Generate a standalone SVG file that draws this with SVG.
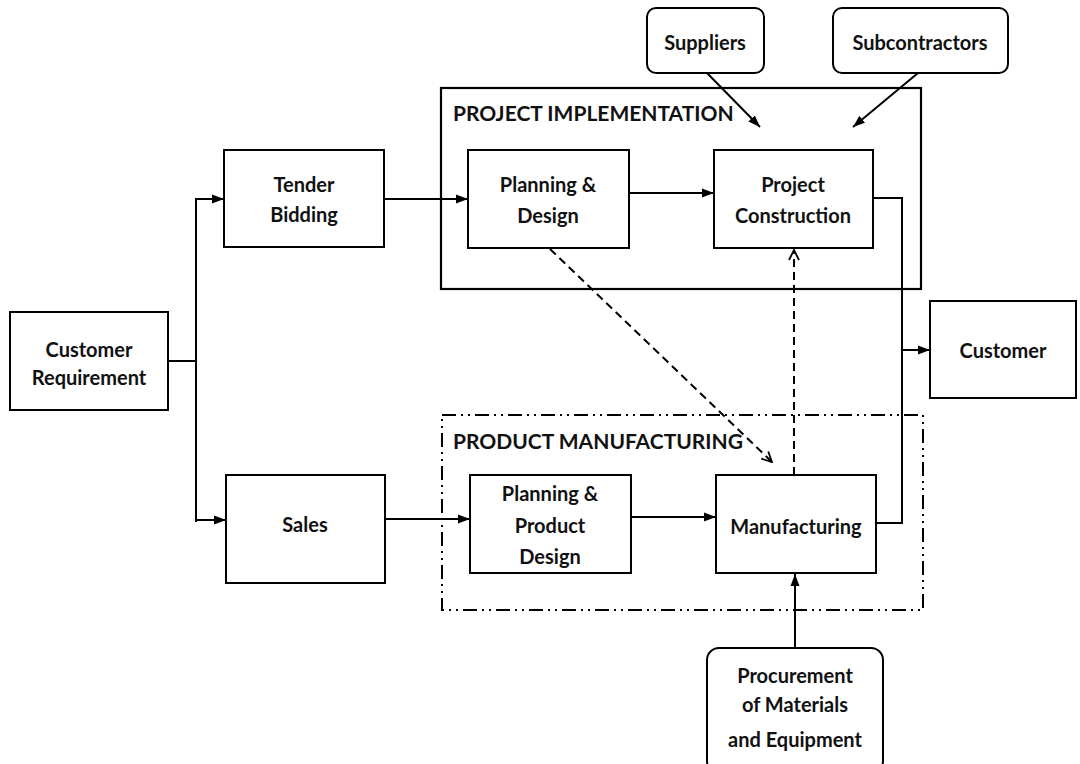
<svg xmlns="http://www.w3.org/2000/svg" width="1080" height="764" viewBox="0 0 1080 764">
<style>
.box{fill:#fff;stroke:#000;stroke-width:2}
.grp{fill:none;stroke:#000;stroke-width:2.2}
.grpd{fill:none;stroke:#000;stroke-width:2;stroke-dasharray:14 5 2 5 2 5}
.ln{fill:none;stroke:#000;stroke-width:2}
.dash{fill:none;stroke:#000;stroke-width:2;stroke-dasharray:8 5}
text{font-family:Lato,"Liberation Sans",sans-serif;font-size:20px;font-weight:bold;fill:#111;text-anchor:middle}
.title{text-anchor:start;font-size:21px}
</style>
<defs>
<marker id="ah" viewBox="0 0 12 10" refX="12" refY="5" markerWidth="12" markerHeight="10" markerUnits="userSpaceOnUse" orient="auto">
<path d="M0,0.5 L12,5 L0,9.5 Z" fill="#000"/>
</marker>
<marker id="oh" viewBox="0 0 12 12" refX="11" refY="6" markerWidth="12" markerHeight="12" markerUnits="userSpaceOnUse" orient="auto">
<path d="M1,1 L11,6 L1,11" fill="none" stroke="#000" stroke-width="1.8"/>
</marker>
</defs>

<g id="project-implementation">
<rect class="grp" x="441" y="88" width="480" height="201"/>
<text class="title" x="453" y="121">PROJECT IMPLEMENTATION</text>
</g>
<g id="product-manufacturing">
<rect class="grpd" x="442" y="415" width="481" height="195"/>
<text class="title" x="453" y="449">PRODUCT MANUFACTURING</text>
</g>

<g id="connectors">
<polyline class="ln" points="168,361 196,361"/>
<polyline class="ln" points="196,522 196,199 224,199" marker-end="url(#ah)"/>
<polyline class="ln" points="196,361 196,520 226,520" marker-end="url(#ah)"/>
<line class="ln" x1="384" y1="199" x2="468" y2="199" marker-end="url(#ah)"/>
<line class="ln" x1="629" y1="193" x2="714" y2="193" marker-end="url(#ah)"/>
<line class="ln" x1="385" y1="519" x2="470" y2="519" marker-end="url(#ah)"/>
<line class="ln" x1="631" y1="517" x2="716" y2="517" marker-end="url(#ah)"/>
<polyline class="ln" points="873,198 902,198 902,523 876,523"/>
<line class="ln" x1="902" y1="350" x2="930" y2="350" marker-end="url(#ah)"/>
<line class="ln" x1="707" y1="73" x2="760" y2="127" marker-end="url(#ah)"/>
<line class="ln" x1="918" y1="73" x2="853" y2="127" marker-end="url(#ah)"/>
<line class="dash" x1="550" y1="249" x2="772" y2="462" marker-end="url(#oh)"/>
<line class="dash" x1="794" y1="475" x2="794" y2="250" marker-end="url(#oh)"/>
<line class="ln" x1="795" y1="648" x2="795" y2="574" marker-end="url(#ah)"/>
</g>

<g id="customer-requirement">
<rect class="box" x="10" y="312" width="158" height="98"/>
<text x="89" y="357">Customer</text>
<text x="89" y="385">Requirement</text>
</g>
<g id="tender-bidding">
<rect class="box" x="224" y="150" width="160" height="97"/>
<text x="304" y="192">Tender</text>
<text x="304" y="222">Bidding</text>
</g>
<g id="sales">
<rect class="box" x="226" y="475" width="159" height="108"/>
<text x="305" y="532">Sales</text>
</g>
<g id="planning-design">
<rect class="box" x="468" y="150" width="161" height="98"/>
<text x="548" y="192">Planning &amp;</text>
<text x="548" y="223">Design</text>
</g>
<g id="project-construction">
<rect class="box" x="714" y="150" width="159" height="98"/>
<text x="793" y="192">Project</text>
<text x="793" y="223">Construction</text>
</g>
<g id="planning-product-design">
<rect class="box" x="470" y="475" width="161" height="98"/>
<text x="550" y="501">Planning &amp;</text>
<text x="550" y="533">Product</text>
<text x="550" y="564">Design</text>
</g>
<g id="manufacturing">
<rect class="box" x="716" y="475" width="160" height="98"/>
<text x="796" y="534">Manufacturing</text>
</g>
<g id="customer">
<rect class="box" x="930" y="301" width="146" height="97"/>
<text x="1003" y="358">Customer</text>
</g>
<g id="suppliers">
<rect class="box" x="647" y="8" width="117" height="65" rx="9"/>
<text x="705" y="50">Suppliers</text>
</g>
<g id="subcontractors">
<rect class="box" x="833" y="8" width="175" height="65" rx="9"/>
<text x="920" y="50">Subcontractors</text>
</g>
<g id="procurement">
<rect class="box" x="707" y="648" width="176" height="125" rx="12"/>
<text x="795" y="683">Procurement</text>
<text x="795" y="712">of Materials</text>
<text x="795" y="747">and Equipment</text>
</g>
</svg>
